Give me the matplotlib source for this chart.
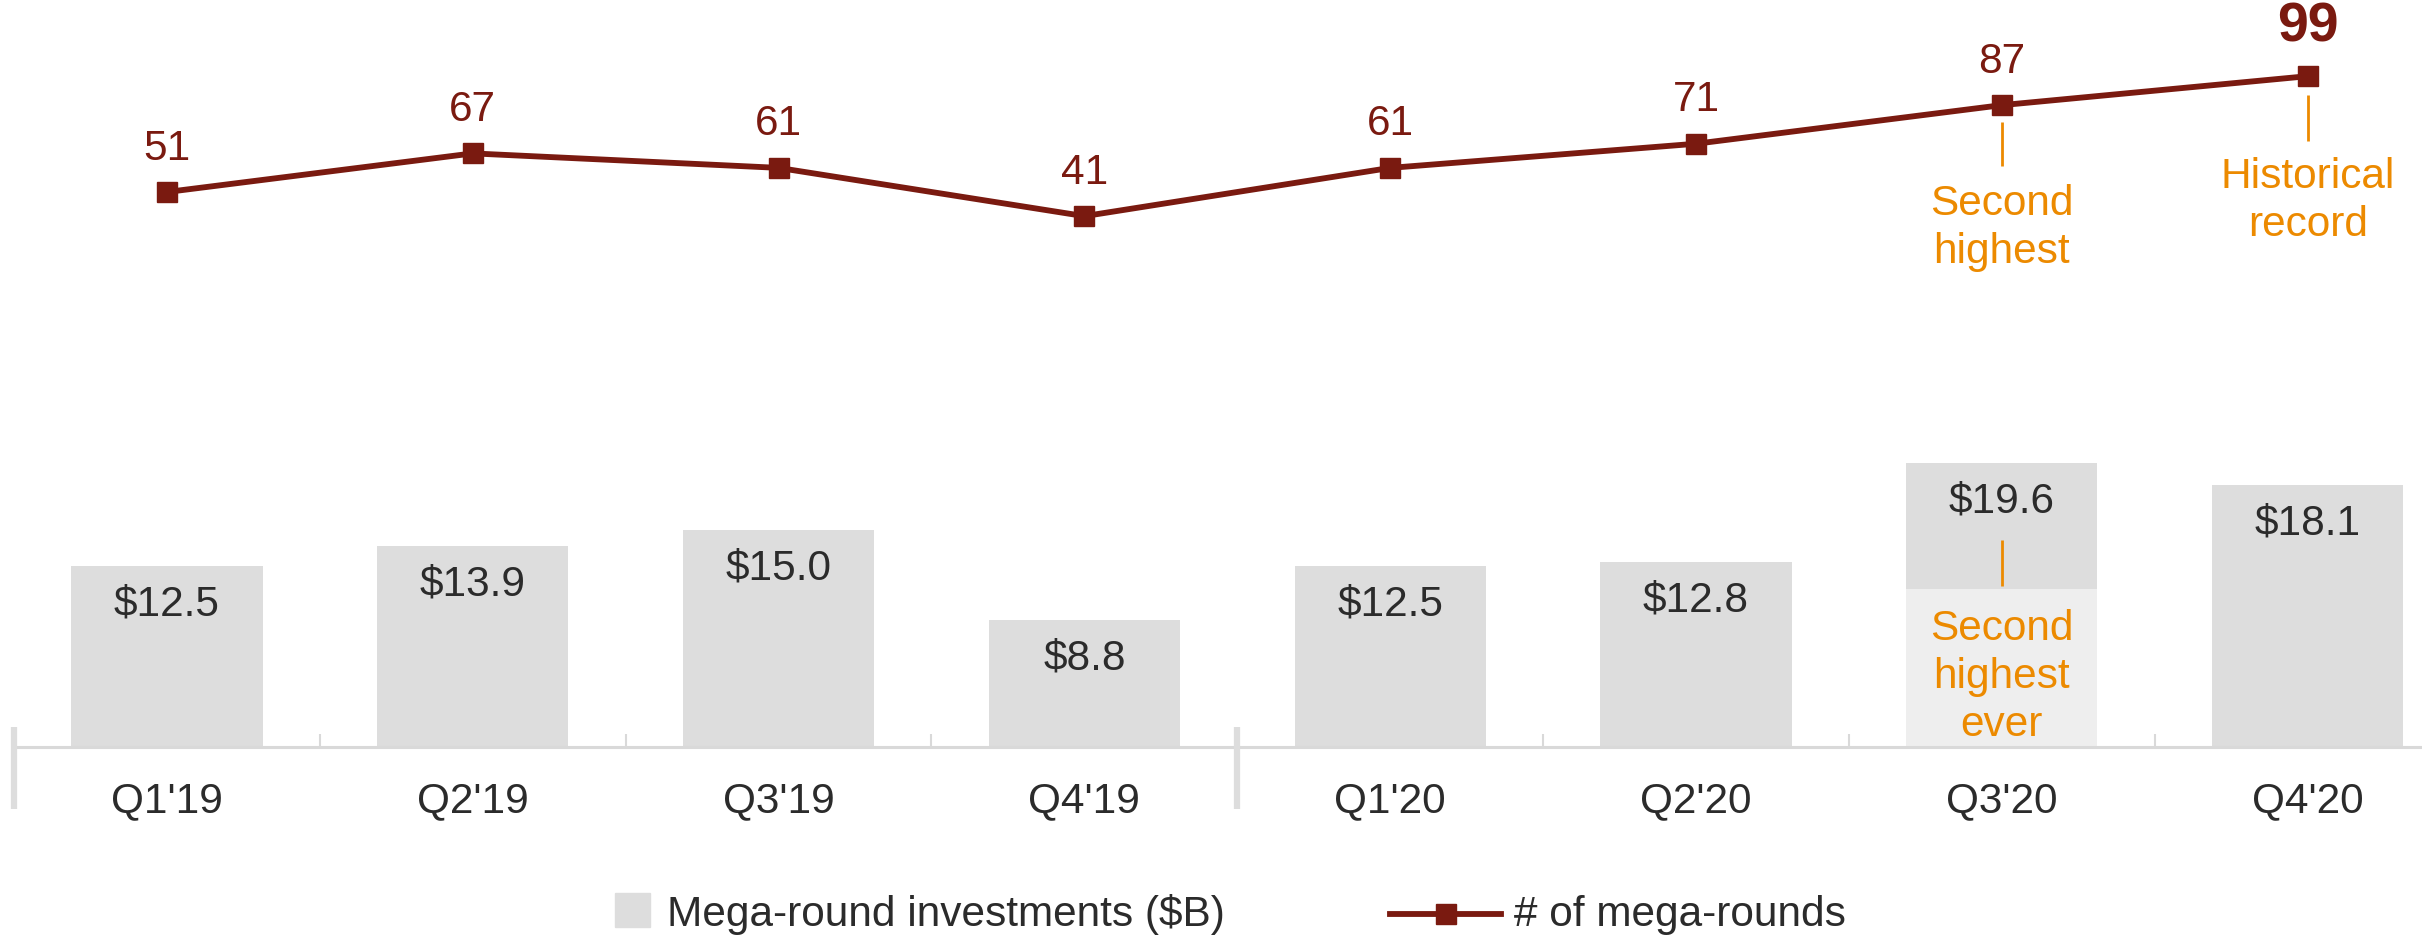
import numpy as np
import matplotlib.pyplot as plt
from matplotlib.patches import Rectangle
from matplotlib.lines import Line2D

plt.rcParams['font.family'] = ['Liberation Sans', 'DejaVu Sans']
plt.rcParams['text.parse_math'] = False

# dados do grafico
trimestres = ["Q1'19", "Q2'19", "Q3'19", "Q4'19", "Q1'20", "Q2'20", "Q3'20", "Q4'20"]
investimentos = [12.5, 13.9, 15.0, 8.8, 12.5, 12.8, 19.6, 18.1]
rotulos_inv = ['$12.5', '$13.9', '$15.0', '$8.8', '$12.5', '$12.8', '$19.6', '$18.1']
rodadas = [51, 67, 61, 41, 61, 71, 87, 99]

cinza = '#dddddd'
cinza_claro = '#eeeeee'
vermelho = '#7a1a10'
laranja = '#ec8a00'
texto = '#2b2b2b'
fs = 30.5

W, H = 2422, 937
fig = plt.figure(figsize=(W / 100, H / 100), dpi=100)

# eixo das barras: base em y=748 px, 14.48 px por $B
base_px = 748
px_bar = 14.48
ax = fig.add_axes([0, (H - base_px) / H, 1, base_px / H])
ax.set_xlim(-0.546, 7.374)
ax.set_ylim(0, base_px / px_bar)
x = np.arange(len(trimestres))

ax.bar(x, investimentos, width=0.625, color=cinza)
# parte mais clara da barra do Q3'20 (caixa de destaque)
ax.bar(6, 158 / px_bar, width=0.625, color=cinza_claro)

for i in range(len(x)):
    ax.annotate(rotulos_inv[i], (x[i], investimentos[i]), xytext=(0, -27), textcoords='offset points',
                ha='center', va='center', fontsize=fs, color=texto)

# linha de base e separadores
ax.hlines(0, -0.5, 7.374, color='#d9d9d9', lw=2.2, clip_on=False)
ax.vlines(np.arange(0.5, 7, 1), 0, 13 / px_bar, color='#d9d9d9', lw=1.5)
ax.vlines([-0.5, 3.5], -62 / px_bar, 20 / px_bar, color=cinza, lw=4.5, clip_on=False)

ax.set_xticks(x, trimestres)
ax.tick_params(axis='x', length=0, pad=24, labelsize=fs, labelcolor=texto)
ax.set_yticks([])
for s in ax.spines.values():
    s.set_visible(False)
ax.patch.set_visible(False)

# destaque dentro da barra Q3'20
ax.vlines(6, (base_px - 587) / px_bar, (base_px - 541) / px_bar, color=laranja, lw=2)
ax.text(6, (base_px - 677) / px_bar, 'Second\nhighest\never', ha='center', va='center',
        fontsize=fs, color=laranja, linespacing=1.25)

# eixo da linha: 51 -> y=193 px, 2.413 px por rodada
px_lin = 2.413
ax2 = fig.add_axes([0, 0, 1, 1])
ax2.set_xlim(ax.get_xlim())
ax2.set_ylim(51 - (H - 193) / px_lin, 51 + 193 / px_lin)
ax2.axis('off')
ax2.plot(x, rodadas, color=vermelho, lw=4.2, marker='s', ms=15)

for i in range(len(x)):
    if i == len(x) - 1:
        ax2.annotate(str(rodadas[i]), (x[i], rodadas[i]), xytext=(0, 36), textcoords='offset points',
                     ha='center', va='center', fontsize=40, fontweight='bold', color=vermelho)
    else:
        ax2.annotate(str(rodadas[i]), (x[i], rodadas[i]), xytext=(0, 32), textcoords='offset points',
                     ha='center', va='center', fontsize=fs, color=vermelho)

ax2.vlines(6, rodadas[6] - 61 / px_lin, rodadas[6] - 17 / px_lin, color=laranja, lw=2)
ax2.text(6, rodadas[6] - 122 / px_lin, 'Second\nhighest', ha='center', va='center',
         fontsize=fs, color=laranja, linespacing=1.25)
ax2.vlines(7, rodadas[7] - 65 / px_lin, rodadas[7] - 19 / px_lin, color=laranja, lw=2)
ax2.text(7, rodadas[7] - 124 / px_lin, 'Historical\nrecord', ha='center', va='center',
         fontsize=fs, color=laranja, linespacing=1.25)

# legenda manual
fig.patches.append(Rectangle((615 / W, (H - 928) / H), 35 / W, 34 / H, transform=fig.transFigure,
                             color=cinza))
fig.text(667 / W, (H - 915) / H, 'Mega-round investments ($B)', ha='left', va='center',
         fontsize=fs, color=texto)
fig.lines.append(Line2D([1390 / W, 1501 / W], [(H - 915) / H] * 2, transform=fig.transFigure,
                        color=vermelho, lw=4.2))
fig.lines.append(Line2D([1446 / W], [(H - 915) / H], transform=fig.transFigure,
                        color=vermelho, marker='s', ms=15, lw=0))
fig.text(1514 / W, (H - 915) / H, '# of mega-rounds', ha='left', va='center',
         fontsize=fs, color=texto)

fig.savefig('out.png', dpi=100)
